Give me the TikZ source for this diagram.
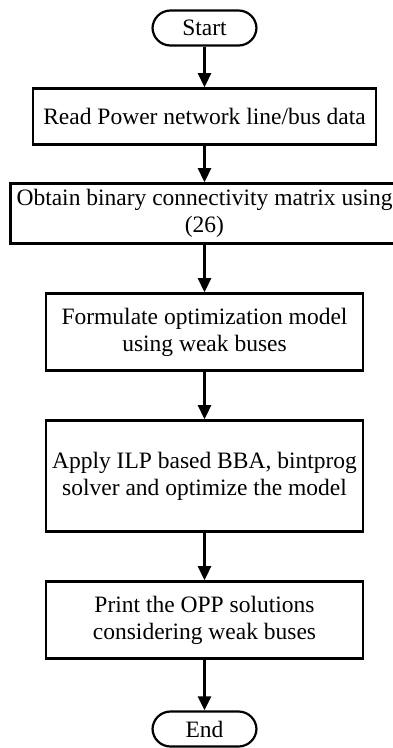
\documentclass[tikz,border=0pt]{standalone}
\usepackage{fontspec}
\setmainfont{Liberation Serif}
\usetikzlibrary{arrows.meta}

\begin{document}
\begin{tikzpicture}[x=1pt,y=-1pt,
    terminal/.style ={rectangle, draw, line width=2.2pt, rounded corners=18pt, inner sep=0pt,
                      minimum width=104pt, minimum height=35pt, font=\fontsize{23.5}{27}\selectfont},
    process/.style ={rectangle, draw, line width=2.6pt, align=center, inner sep=0pt,
                     font=\fontsize{23.5}{27}\selectfont},
    flow/.style ={line width=2.6pt, -{Triangle[length=14pt,width=13pt]}}]
   \useasboundingbox (0,0) rectangle (393,748);
   \node[terminal] (start) at (204.5,28) {Start};
   \node[process, minimum width=343pt, minimum height=56pt] (read) at (204.5,116.5) {Read Power network line/bus data};
   \node[process, minimum width=388pt, minimum height=60pt] (conn) at (204.5,213.5) {Obtain binary connectivity matrix using\\(26)};
   \node[process, minimum width=317pt, minimum height=77pt] (model) at (204.5,332) {Formulate optimization model\\using weak buses};
   \node[process, minimum width=317pt, minimum height=111pt] (solve) at (204.5,476) {Apply ILP based BBA, bintprog\\solver and optimize the model};
   \node[process, minimum width=317pt, minimum height=77pt] (print) at (204.5,620) {Print the OPP solutions\\considering weak buses};
   \node[terminal] (end) at (204.5,729) {End};
   \draw[flow] (start) -- (read);
   \draw[flow] (read) -- (conn);
   \draw[flow] (conn) -- (model);
   \draw[flow] (model) -- (solve);
   \draw[flow] (solve) -- (print);
   \draw[flow] (print) -- (end);
 \end{tikzpicture}
\end{document}
